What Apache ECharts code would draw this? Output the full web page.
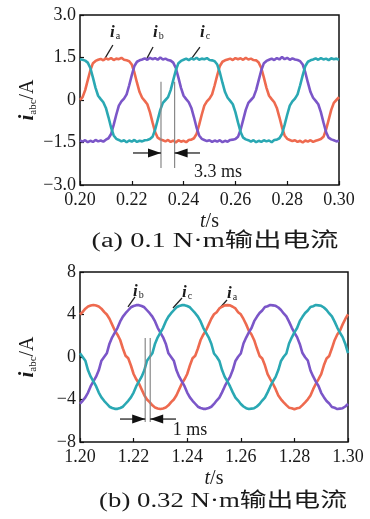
<!DOCTYPE html>
<html>
<head>
<meta charset="utf-8">
<script src="https://cdn.jsdelivr.net/npm/echarts@6/dist/echarts.min.js"></script>
<style>
  html, body { margin: 0; padding: 0; background: #fff; }
  #main { width: 370px; height: 519px; }
</style>
</head>
<body>
<div id="main"></div>
<script>
// (a) 0.1 N·m, samples every 1 ms from 0.200 s
const startA = 0.2;
const stepA = 0.001;
const iaA = [0, 0.1, 0.35, 0.7, 1.05, 1.3, 1.38, 1.42, 1.45, 1.40, 1.47, 1.43, 1.48, 1.41, 1.46, 1.44, 1.49, 1.42, 1.40, 1.37,
  1.25, 0.97, 0.61, 0.28, 0.08, -0.03, -0.15, -0.43, -0.79, -1.13, -1.33, -1.39, -1.42, -1.46, -1.41, -1.48, -1.43, -1.50, -1.42, -1.47,
  -1.44, -1.49, -1.41, -1.40, -1.35, -1.2, -0.88, -0.52, -0.2, -0.05, 0.05, 0.2, 0.52, 0.88, 1.2, 1.35, 1.40, 1.43, 1.46, 1.41,
  1.48, 1.44, 1.47, 1.42, 1.49, 1.43, 1.46, 1.41, 1.40, 1.32, 1.13, 0.79, 0.43, 0.15, 0.03, -0.08, -0.28, -0.61, -0.97, -1.25,
  -1.37, -1.41, -1.45, -1.42, -1.48, -1.44, -1.50, -1.43, -1.47, -1.42, -1.48, -1.44, -1.41, -1.38, -1.3, -1.05, -0.7, -0.35, -0.1, 0, 0.1];
const ibA = [-1.43, -1.47, -1.42, -1.49, -1.44, -1.48, -1.41, -1.46, -1.43, -1.47, -1.40, -1.35, -1.2, -0.88, -0.52, -0.2, -0.05, 0.05, 0.2, 0.52,
  0.88, 1.2, 1.35, 1.40, 1.43, 1.47, 1.42, 1.49, 1.44, 1.48, 1.42, 1.50, 1.43, 1.46, 1.41, 1.39, 1.32, 1.13, 0.79, 0.43,
  0.15, 0.03, -0.08, -0.28, -0.61, -0.97, -1.25, -1.37, -1.41, -1.45, -1.42, -1.48, -1.43, -1.47, -1.42, -1.49, -1.44, -1.47, -1.41, -1.40,
  -1.38, -1.3, -1.05, -0.7, -0.35, -0.1, 0, 0.1, 0.35, 0.7, 1.05, 1.3, 1.38, 1.42, 1.46, 1.41, 1.48, 1.43, 1.52, 1.44,
  1.49, 1.42, 1.47, 1.43, 1.41, 1.37, 1.25, 0.97, 0.61, 0.28, 0.08, -0.03, -0.15, -0.43, -0.79, -1.13, -1.33, -1.39, -1.42, -1.46, -1.44];
const icA = [1.44, 1.42, 1.39, 1.32, 1.13, 0.79, 0.43, 0.15, 0.03, -0.08, -0.28, -0.61, -0.97, -1.25, -1.37, -1.41, -1.46, -1.42, -1.49, -1.43,
  -1.47, -1.41, -1.48, -1.44, -1.46, -1.42, -1.41, -1.38, -1.3, -1.05, -0.7, -0.35, -0.1, 0, 0.1, 0.35, 0.7, 1.05, 1.3, 1.38,
  1.42, 1.46, 1.41, 1.47, 1.43, 1.49, 1.42, 1.46, 1.44, 1.48, 1.41, 1.40, 1.37, 1.25, 0.97, 0.61, 0.28, 0.08, -0.03, -0.15,
  -0.43, -0.79, -1.13, -1.33, -1.39, -1.42, -1.47, -1.42, -1.49, -1.44, -1.48, -1.42, -1.46, -1.43, -1.49, -1.41, -1.40, -1.35, -1.2, -0.88,
  -0.52, -0.2, -0.05, 0.05, 0.2, 0.52, 0.88, 1.2, 1.35, 1.40, 1.43, 1.47, 1.42, 1.48, 1.43, 1.46, 1.41, 1.47, 1.44, 1.46, 1.42];

// (b) 0.32 N·m, samples every 1 ms from 1.200 s
const startB = 1.2;
const stepB = 0.001;
const iaB = [4.0, 4.25, 4.55, 4.75, 4.84, 4.9, 4.84, 4.75, 4.55, 4.25, 4.0, 3.6, 3.05, 2.5, 2.1, 1.6, 0.8, 0.12, -0.12, -0.8,
  -1.6, -2.1, -2.5, -3.05, -3.6, -4.0, -4.25, -4.55, -4.75, -4.84, -4.9, -4.84, -4.75, -4.55, -4.25, -4.0, -3.6, -3.05, -2.5, -2.1,
  -1.6, -0.8, -0.12, 0.12, 0.8, 1.6, 2.1, 2.5, 3.05, 3.6, 4.02, 4.22, 4.57, 4.73, 4.86, 4.88, 4.86, 4.73, 4.57, 4.22,
  4.02, 3.58, 3.07, 2.48, 2.12, 1.58, 0.82, 0.1, -0.14, -0.78, -1.62, -2.08, -2.52, -3.03, -3.62, -3.98, -4.27, -4.53, -4.77, -4.82,
  -4.92, -4.82, -4.77, -4.53, -4.27, -3.98, -3.62, -3.03, -2.52, -2.08, -1.62, -0.78, -0.14, 0.1, 0.82, 1.58, 2.12, 2.48, 3.07, 3.58, 4.02];
const ibB = [-4.4, -4.12, -3.8, -3.35, -2.75, -2.3, -1.85, -1.25, -0.35, 0, 0.35, 1.25, 1.85, 2.3, 2.75, 3.35, 3.8, 4.12, 4.4, 4.68,
  4.8, 4.88, 4.88, 4.8, 4.68, 4.4, 4.12, 3.8, 3.35, 2.75, 2.3, 1.85, 1.25, 0.35, 0, -0.35, -1.25, -1.85, -2.3, -2.75,
  -3.35, -3.8, -4.12, -4.4, -4.68, -4.8, -4.88, -4.88, -4.8, -4.68, -4.42, -4.1, -3.82, -3.33, -2.77, -2.28, -1.87, -1.23, -0.37, 0.02,
  0.33, 1.27, 1.83, 2.32, 2.73, 3.37, 3.78, 4.14, 4.38, 4.7, 4.78, 4.9, 4.86, 4.82, 4.66, 4.42, 4.1, 3.82, 3.33, 2.77,
  2.28, 1.87, 1.23, 0.37, -0.02, -0.33, -1.27, -1.83, -2.32, -2.73, -3.37, -3.78, -4.14, -4.38, -4.7, -4.78, -4.9, -4.86, -4.82, -4.66, -4.42];
const icB = [0.35, 0, -0.35, -1.25, -1.85, -2.3, -2.75, -3.35, -3.8, -4.12, -4.4, -4.68, -4.8, -4.88, -4.88, -4.8, -4.68, -4.4, -4.12, -3.8,
  -3.35, -2.75, -2.3, -1.85, -1.25, -0.35, 0, 0.35, 1.25, 1.85, 2.3, 2.75, 3.35, 3.8, 4.12, 4.4, 4.68, 4.8, 4.88, 4.88,
  4.8, 4.68, 4.4, 4.12, 3.8, 3.35, 2.75, 2.3, 1.85, 1.25, 0.33, 0.02, -0.37, -1.23, -1.87, -2.28, -2.77, -3.33, -3.82, -4.1,
  -4.42, -4.66, -4.82, -4.9, -4.86, -4.82, -4.66, -4.42, -4.1, -3.82, -3.33, -2.77, -2.28, -1.87, -1.23, -0.37, 0.02, 0.33, 1.27, 1.83,
  2.32, 2.73, 3.37, 3.78, 4.14, 4.38, 4.7, 4.78, 4.9, 4.86, 4.82, 4.66, 4.42, 4.1, 3.82, 3.33, 2.77, 2.28, 1.87, 1.23, 0.37];

// annotations, in data coordinates: [name, t, value]
const tagsA = [['a', 0.2116, 2.37], ['b', 0.2282, 2.37], ['c', 0.2463, 2.37]];
const leadersA = [[0.2127, 1.94, 0.2097, 1.48], [0.2282, 1.87, 0.2259, 1.48], [0.2463, 1.87, 0.2432, 1.48]];
const tagsB = [['b', 1.21978, 6.2], ['c', 1.23806, 6.1], ['a', 1.25485, 6.0]];
const leadersB = [[1.22052, 5.65, 1.21791, 4.71], [1.23806, 5.55, 1.2347, 4.61], [1.25485, 5.36, 1.25149, 4.42]];
// gap markers: [t left line, t right line, top, bottom, arrow value, arrow start left, arrow start right, label t, label v, text]
const gapA = [0.23127, 0.23653, 0.64, -2.4, -1.87, 0.22046, 0.24633, 0.2533, -2.54, '3.3 ms'];
const gapB = [1.22433, 1.2262, 1.79, -6.12, -5.84, 1.21493, 1.23582, 1.24104, -6.85, '1 ms'];

const RED = '#ee6a4f';
const PURPLE = '#7b56c8';
const TEAL = '#2aa8b3';
const SERIF = '"Liberation Serif", "Times New Roman", serif';
const CAPFONT = '"Liberation Serif", "Noto Sans CJK SC", serif';

function pairs(start, step, vals) {
    return vals.map((v, i) => [+(start + i * step).toFixed(4), v]);
}

function minus(s) { return s.replace('-', '\u2212'); }

const chart = echarts.init(document.getElementById('main'), null, { renderer: 'canvas' });

function xAxisFor(idx, min, max) {
    return {
        type: 'value', gridIndex: idx, min: min, max: max, interval: 0.02,
        axisLine: { show: false, onZero: false },
        axisTick: { show: true, inside: true, length: 4, lineStyle: { color: '#111', width: 1.2 } },
        axisLabel: { fontFamily: SERIF, fontSize: 18, color: '#1a1a1a', margin: 6,
            formatter: v => v.toFixed(2) },
        splitLine: { show: false },
        name: '{t|t}{n|/s}', nameLocation: 'middle', nameGap: 27, nameMoveOverlap: false,
        nameTextStyle: { rich: {
            t: { fontFamily: SERIF, fontStyle: 'italic', fontSize: 20, color: '#1a1a1a' },
            n: { fontFamily: SERIF, fontSize: 20, color: '#1a1a1a' } } }
    };
}

function yAxisFor(idx, min, max, interval, fmt) {
    return {
        type: 'value', gridIndex: idx, min: min, max: max, interval: interval,
        axisLine: { show: false, onZero: false },
        axisTick: { show: true, inside: true, length: 4, lineStyle: { color: '#111', width: 1.2 } },
        axisLabel: { fontFamily: SERIF, fontSize: 18, color: '#1a1a1a', margin: 4, formatter: fmt },
        splitLine: { show: false },
        name: '{i|i}{s|abc}{n|/A}', nameLocation: 'middle', nameGap: 41, nameRotate: 90, nameMoveOverlap: false,
        nameTextStyle: { rich: {
            i: { fontFamily: SERIF, fontStyle: 'italic', fontWeight: 'bold', fontSize: 21, color: '#1a1a1a', lineHeight: 22 },
            s: { fontFamily: SERIF, fontSize: 11, color: '#1a1a1a', verticalAlign: 'bottom', lineHeight: 22, padding: [8, 0, 0, 0] },
            n: { fontFamily: SERIF, fontSize: 20, color: '#1a1a1a', lineHeight: 22 } } }
    };
}

function line(name, data, color, idx) {
    return {
        name: name, type: 'line', xAxisIndex: idx, yAxisIndex: idx, data: data,
        showSymbol: false, symbol: 'none', smooth: false, silent: true,
        lineStyle: { color: color, width: 2.6 }
    };
}

chart.setOption({
    animation: false,
    backgroundColor: '#ffffff',
    grid: [
        { left: 80, top: 15, width: 259, height: 170, show: true, borderColor: '#111', borderWidth: 1.5, outerBoundsMode: 'none' },
        { left: 80, top: 272, width: 268, height: 170, show: true, borderColor: '#111', borderWidth: 1.5, outerBoundsMode: 'none' }
    ],
    xAxis: [xAxisFor(0, 0.2, 0.3), xAxisFor(1, 1.2, 1.3)],
    yAxis: [
        yAxisFor(0, -3, 3, 1.5, v => v === 0 ? '0' : minus(v.toFixed(1))),
        yAxisFor(1, -8, 8, 4, v => minus(String(v)))
    ],
    series: [
        line('ia', pairs(startA, stepA, iaA), RED, 0),
        line('ib', pairs(startA, stepA, ibA), PURPLE, 0),
        line('ic', pairs(startA, stepA, icA), TEAL, 0),
        line('ia', pairs(startB, stepB, iaB), RED, 1),
        line('ib', pairs(startB, stepB, ibB), PURPLE, 1),
        line('ic', pairs(startB, stepB, icB), TEAL, 1)
    ]
});

// annotation graphics placed through the axes
function px(g, t, v) {
    return chart.convertToPixel({ xAxisIndex: g, yAxisIndex: g }, [t, v]);
}

const graphics = [];

function addTags(g, tags, leaders) {
    tags.forEach(tg => {
        const p = px(g, tg[1], tg[2]);
        graphics.push({
            type: 'text', x: p[0], y: p[1], silent: true,
            style: {
                text: '{i|i}{s|' + tg[0] + '}', verticalAlign: 'middle',
                rich: {
                    i: { fontFamily: SERIF, fontStyle: 'italic', fontWeight: 'bold', fontSize: 17, fill: '#1a1a1a', lineHeight: 18 },
                    s: { fontFamily: SERIF, fontSize: 10, fill: '#1a1a1a', verticalAlign: 'bottom', lineHeight: 18, padding: [7, 0, 0, 1] }
                }
            }
        });
    });
    leaders.forEach(l => {
        const a = px(g, l[0], l[1]);
        const b = px(g, l[2], l[3]);
        graphics.push({ type: 'line', silent: true, shape: { x1: a[0], y1: a[1], x2: b[0], y2: b[1] },
            style: { stroke: '#222', lineWidth: 1.3 } });
    });
}

function addGap(g, gp) {
    [gp[0], gp[1]].forEach(t => {
        const a = px(g, t, gp[2]);
        const b = px(g, t, gp[3]);
        graphics.push({ type: 'line', silent: true, z: 10, shape: { x1: a[0], y1: a[1], x2: b[0], y2: b[1] },
            style: { stroke: '#888', lineWidth: 1.2 } });
    });
    const arrows = [[gp[5], gp[0]], [gp[6], gp[1]]];
    arrows.forEach(ar => {
        const s = px(g, ar[0], gp[4]);
        const e = px(g, ar[1], gp[4]);
        const dir = e[0] > s[0] ? 1 : -1;
        graphics.push({ type: 'line', silent: true, z: 10, shape: { x1: s[0], y1: s[1], x2: e[0], y2: e[1] },
            style: { stroke: '#111', lineWidth: 1.2 } });
        graphics.push({ type: 'polygon', silent: true, z: 10,
            shape: { points: [[e[0], e[1]], [e[0] - dir * 13, e[1] - 4.5], [e[0] - dir * 13, e[1] + 4.5]] },
            style: { fill: '#111' } });
    });
    const tp = px(g, gp[7], gp[8]);
    graphics.push({ type: 'text', x: tp[0], y: tp[1], silent: true, z: 10,
        style: { text: gp[9], fontFamily: SERIF, fontSize: 18, fill: '#1a1a1a', align: 'center', verticalAlign: 'middle' } });
}

addTags(0, tagsA, leadersA);
addTags(1, tagsB, leadersB);
addGap(0, gapA);
addGap(1, gapB);

// captions: set in a wide face in the original, so stretch horizontally
graphics.push({ type: 'text', x: 215, y: 242, scaleX: 1.42, silent: true,
    style: { text: '(a) 0.1 N\u00b7m输出电流', fontFamily: CAPFONT, fontSize: 20, fill: '#1a1a1a', align: 'center', verticalAlign: 'middle' } });
graphics.push({ type: 'text', x: 223, y: 502, scaleX: 1.34, silent: true,
    style: { text: '(b) 0.32 N\u00b7m输出电流', fontFamily: CAPFONT, fontSize: 20, fill: '#1a1a1a', align: 'center', verticalAlign: 'middle' } });

chart.setOption({ graphic: graphics });
</script>
</body>
</html>
